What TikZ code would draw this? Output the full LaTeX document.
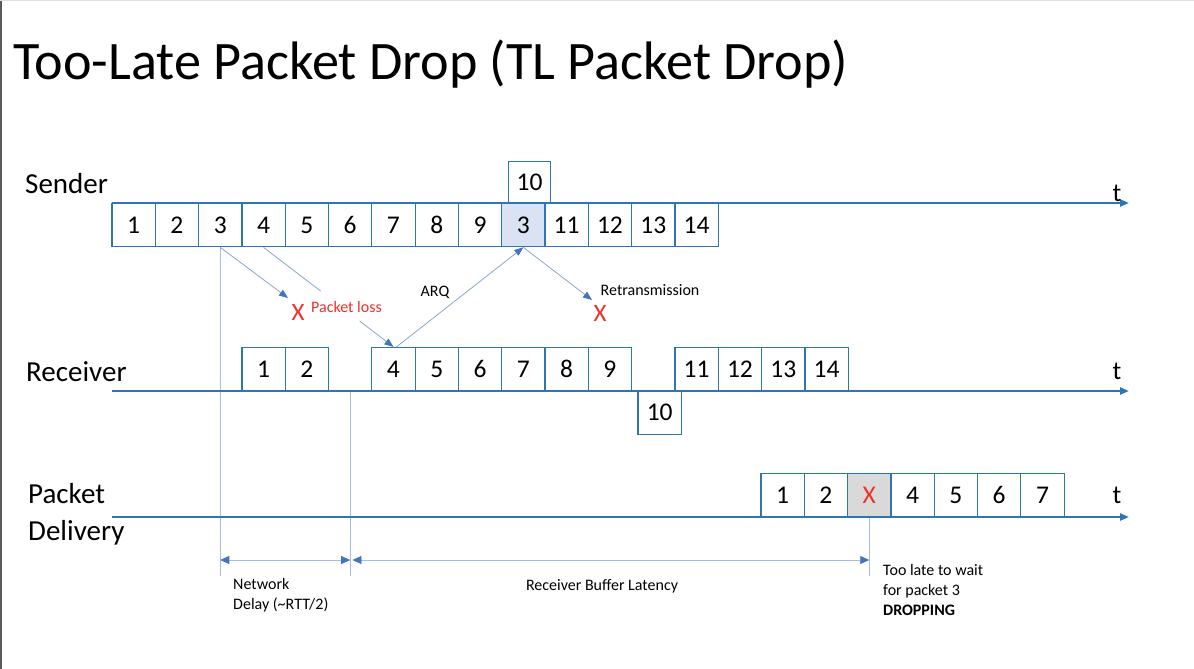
\documentclass[tikz,border=0pt]{standalone}
\usepackage{fontspec}
\setmainfont{Carlito}
\usetikzlibrary{arrows.meta,calc}
\definecolor{boxblue}{HTML}{2E75B6}
\definecolor{lineblue}{HTML}{2E75B6}
\definecolor{thinblue}{HTML}{8CA4D6}
\definecolor{vblue}{HTML}{A9BBE0}
\definecolor{tipblue}{HTML}{4472C4}
\definecolor{lossred}{HTML}{F0302A}
\definecolor{shadeblue}{HTML}{DAE3F3}
\definecolor{shadegray}{HTML}{D9D9D9}
\definecolor{edgegray}{HTML}{5A5A5A}
\newcommand\fsz[1]{\fontsize{#1}{#1}\selectfont}
\begin{document}
\begin{tikzpicture}[x=1pt,y=-1pt,
 pkt/.style={draw=boxblue, line width=1.2pt, fill=white, minimum width=43.3pt, minimum height=43.5pt, inner sep=0pt, font=\fsz{25.5}},
 lbl/.style={inner sep=0pt, anchor=base west, font=\fsz{29}},
 small/.style={inner sep=0pt, font=\fsz{16}},
 tline/.style={line width=2.6pt, draw=lineblue, -{Triangle[length=9pt,width=7pt]}},
 conn/.style={draw=thinblue, line width=0.8pt, -{Triangle[length=9pt,width=7pt,color=tipblue]}},
 plain/.style={draw=thinblue, line width=0.8pt},
 vline/.style={draw=vblue, line width=0.8pt},
 dimarr/.style={draw=vblue, line width=0.8pt, {Triangle[length=9pt,width=8pt,color=tipblue]}-{Triangle[length=9pt,width=8pt,color=tipblue]}},
 redx/.style={inner sep=0pt, text=lossred, font=\fsz{25}},
 tlab/.style={inner sep=0pt, anchor=base, font=\fsz{26}}
]
\useasboundingbox (0,0) rectangle (1194,669);
\fill[white] (0,0) rectangle (1194,669);
\fill[edgegray] (0,0) rectangle (2,669);
\draw[black!12, line width=0.8pt] (0,0.4) -- (1194,0.4);

% title and row labels
\node[inner sep=0pt, anchor=base west, font=\fsz{54.2}] (title) at (13,79) {Too-Late Packet Drop (TL Packet Drop)};
\node[lbl] (lsend) at (25,193) {Sender};
\node[lbl] (lrecv) at (26,381.5) {Receiver};
\node[lbl] (lpack) at (28,503) {Packet};
\node[lbl] (ldeliv) at (28,540) {Delivery};

% timeline coordinates
\coordinate (sA) at (112,203);
\coordinate (sB) at (1129,203);
\coordinate (rA) at (112,391);
\coordinate (rB) at (1129,391);
\coordinate (dA) at (112,517);
\coordinate (dB) at (1129,517);
\coordinate (ydim) at (0,560);
\coordinate (yend) at (0,576);

% sender boxes
\foreach \i/\t in {1/1,2/2,3/3,4/4,5/5,6/6,7/7,8/8,9/9,11/11,12/12,13/13,14/14}
  \node[pkt] (s\i) at ({112+(\i-0.5)*43.3},225) {\t};
\node[pkt, fill=shadeblue] (s10) at ({112+9.5*43.3},225) {3};
\node[pkt, minimum width=42.5pt, minimum height=41.5pt] (s10top) at (529.5,182.2) {10};

% vertical guide lines (behind)
\draw[vline] (s3.south) -- (s3.south |- yend);
\draw[vline] (s6.south |- rA) -- (s6.south |- yend);

% receiver boxes
\node[pkt] (r1) at ({242+21.65},369.25) {1};
\node[pkt] (r2) at ({242+43.3+21.65},369.25) {2};
\foreach \k in {4,...,9}
  \node[pkt] (r\k) at ({371.8+(\k-4+0.5)*43.3},369.25) {\k};
\node[pkt] (r10) at (659.7,412.75) {10};
\foreach \k in {11,...,14}
  \node[pkt] (r\k) at ({675+(\k-11+0.5)*43.3},369.25) {\k};

% delivery boxes
\foreach \k/\t in {1/1,2/2,4/4,5/5,6/6,7/7}
  \node[pkt] (d\k) at ({761+(\k-0.5)*43.3},495.25) {\t};
\node[pkt, fill=shadegray, text=lossred] (d3) at ({761+2.5*43.3},495.25) {X};
\draw[vline] (d3.south) -- (d3.south |- yend);

% timelines
\draw[tline] (sA) -- (sB);
\draw[tline] (rA) -- (rB);
\draw[tline] (dA) -- (dB);
\node[tlab] (ts) at (1117,201) {t};
\node[tlab] (tr) at (1117,379) {t};
\node[tlab] (td) at (1117,503.5) {t};

% loss of packet 3
\coordinate (x1tip) at (288,298);
\draw[conn] (s3.south) -- (x1tip);
\node[redx] (x1) at (298,312) {X};
\node[small, text=lossred, anchor=west] (ploss) at (311,307.5) {Packet loss};

% packet 4 path (interrupted)
\draw[plain] (s4.south) -- ($(s4.south)!0.44!(r4.north)$);
\draw[conn] ($(s4.south)!0.74!(r4.north)$) -- (r4.north);

% ARQ
\draw[conn] ($(r4.north)+(3,0)$) -- (s10.south);
\node[small] (arq) at (435,292) {ARQ};

% retransmission
\coordinate (x2tip) at (592,300);
\draw[conn] (s10.south) -- (x2tip);
\node[redx] (x2) at (600,313) {X};
\node[small, anchor=west] (retr) at (600.5,290) {Retransmission};

% latency dimensions
\draw[dimarr] (s3.south |- ydim) -- (s6.south |- ydim);
\draw[dimarr] ($(s6.south |- ydim)+(2.3,0)$) -- (d3.south |- ydim);
\node[small, anchor=base west] (nd1) at (233,589) {Network};
\node[small, anchor=base west] (nd2) at (233,609) {Delay (\textasciitilde RTT/2)};
\node[small, anchor=base] (rbl) at (602,590) {Receiver Buffer Latency};
\node[small, anchor=base west] (tl1) at (883,575) {Too late to wait};
\node[small, anchor=base west] (tl2) at (883,595) {for packet 3};
\node[small, anchor=base west, font=\fsz{16}\bfseries] (tl3) at (883,615) {DROPPING};
\end{tikzpicture}
\end{document}
